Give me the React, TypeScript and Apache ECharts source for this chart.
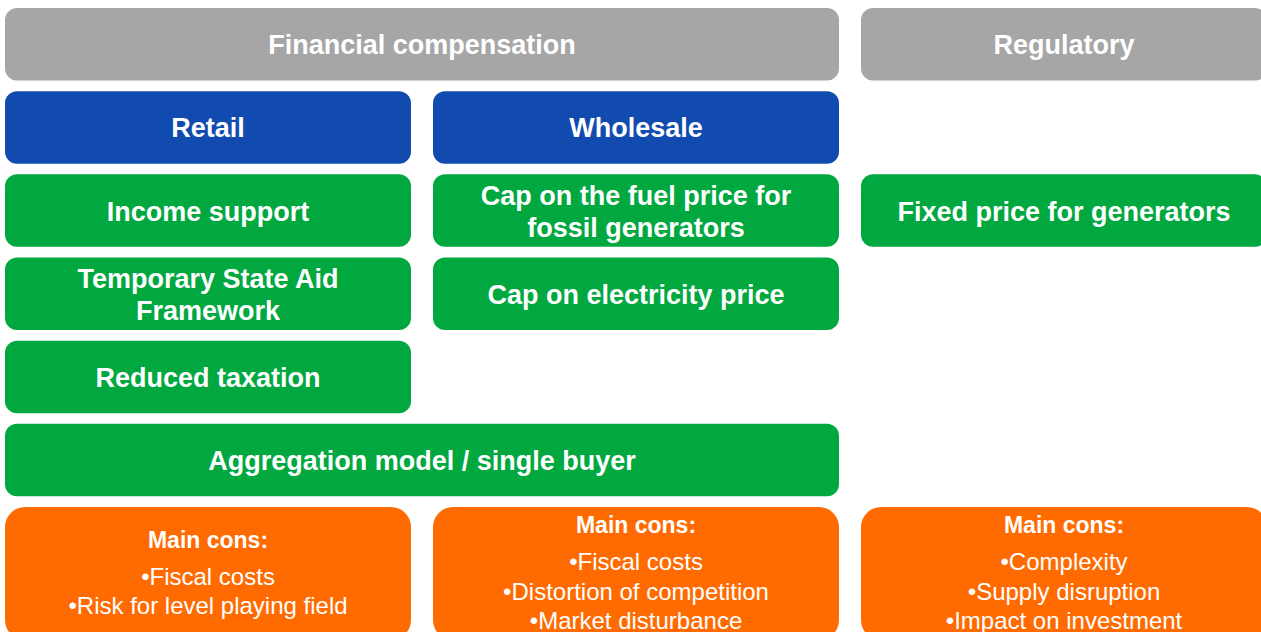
import React, { useEffect, useRef } from "react";
import * as echarts from "echarts";

// ---- data ----
const groupHeaders = ["Financial compensation", "Regulatory"];
const groupSpans = [2, 1];
const marketCategories = ["Retail", "Wholesale"];
const retailMeasures = ["Income support", "Temporary State Aid\nFramework", "Reduced taxation"];
const wholesaleMeasures = ["Cap on the fuel price for\nfossil generators", "Cap on electricity price"];
const regulatoryMeasures = ["Fixed price for generators"];
const sharedMeasure = "Aggregation model / single buyer";
const consTitle = "Main cons:";
const retailCons = ["Fiscal costs", "Risk for level playing field"];
const wholesaleCons = ["Fiscal costs", "Distortion of competition", "Market disturbance"];
const regulatoryCons = ["Complexity", "Supply disruption", "Impact on investment"];

// ---- layout / style ----
const W = 1261;
const H = 632;
const COL_X0 = 5;
const COL_W = 406;
const COL_GAP = 22;
const ROW_Y0 = 8;
const ROW_STEP = 83.17;
const ROW_H = 72.5;
const RADIUS = 12;
const FONT = '"Liberation Sans", Arial, sans-serif';
const GRAY = "#A6A6A6";
const BLUE = "#124BAF";
const GREEN = "#00A83F";
const ORANGE = "#FF6B00";

function colX(c: number) {
  return COL_X0 + c * (COL_W + COL_GAP);
}
function spanW(s: number) {
  return s * COL_W + (s - 1) * COL_GAP;
}
function rowY(r: number) {
  return ROW_Y0 + r * ROW_STEP;
}

function box(col: number, span: number, row: number, color: string, label: string, h = ROW_H): any[] {
  const x = colX(col);
  const y = rowY(row);
  const w = spanW(span);
  return [
    {
      type: "rect",
      shape: { x, y, width: w, height: h, r: RADIUS },
      style: { fill: color },
      silent: true,
    },
    {
      type: "text",
      x: x + w / 2,
      y: y + h / 2 + 1,
      style: {
        text: label,
        fill: "#FFFFFF",
        fontFamily: FONT,
        fontSize: 27,
        fontWeight: "bold",
        lineHeight: 32,
        align: "center",
        verticalAlign: "middle",
      },
      silent: true,
    },
  ];
}

function consBox(col: number, items: string[]): any[] {
  const x = colX(col);
  const y = rowY(6);
  const h = 133;
  const text = `{h|${consTitle}}\n` + items.map((t) => `{b|•${t}}`).join("\n");
  return [
    {
      type: "rect",
      shape: { x, y, width: COL_W, height: h, r: RADIUS + 8 },
      style: { fill: ORANGE },
      silent: true,
    },
    {
      type: "text",
      x: x + COL_W / 2,
      y: y + h / 2 - 4.5,
      style: {
        text,
        fill: "#FFFFFF",
        align: "center",
        verticalAlign: "middle",
        rich: {
          h: {
            fill: "#FFFFFF",
            fontFamily: FONT,
            fontSize: 23,
            fontWeight: "bold",
            lineHeight: 44,
            align: "center",
          },
          b: {
            fill: "#FFFFFF",
            fontFamily: FONT,
            fontSize: 24,
            lineHeight: 29.5,
            align: "center",
          },
        },
      },
      silent: true,
    },
  ];
}

export default function App() {
  const ref = useRef<HTMLDivElement>(null);
  useEffect(() => {
    document.body.style.margin = "0";
    const chart = echarts.init(ref.current!, undefined, { renderer: "svg" });
    const elements: any[] = [];
    let c = 0;
    groupHeaders.forEach((g, i) => {
      elements.push(...box(c, groupSpans[i], 0, GRAY, g));
      c += groupSpans[i];
    });
    marketCategories.forEach((m, i) => elements.push(...box(i, 1, 1, BLUE, m)));
    retailMeasures.forEach((m, i) => elements.push(...box(0, 1, 2 + i, GREEN, m)));
    wholesaleMeasures.forEach((m, i) => elements.push(...box(1, 1, 2 + i, GREEN, m)));
    regulatoryMeasures.forEach((m, i) => elements.push(...box(2, 1, 2 + i, GREEN, m)));
    elements.push(...box(0, 2, 5, GREEN, sharedMeasure));
    [retailCons, wholesaleCons, regulatoryCons].forEach((items, i) => elements.push(...consBox(i, items)));

    chart.setOption({
      animation: false,
      backgroundColor: "#FFFFFF",
      graphic: { elements },
    });
    return () => chart.dispose();
  }, []);
  return <div ref={ref} style={{ width: W, height: H }} />;
}
